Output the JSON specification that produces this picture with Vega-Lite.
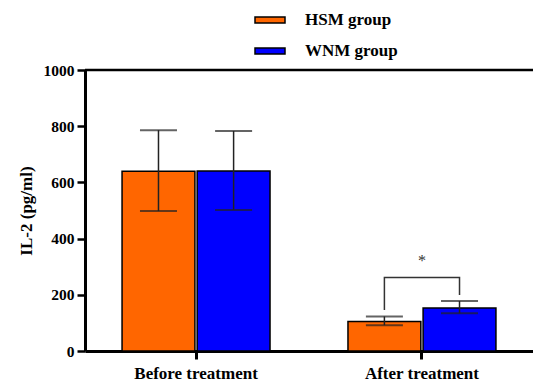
{
  "$schema": "https://vega.github.io/schema/vega-lite/v6.json",
  "autosize": {"type": "none"},
  "padding": {"left": 85, "top": 70, "right": 0, "bottom": 37},
  "width": 448,
  "height": 281,
  "background": "white",
  "config": {
    "view": {"stroke": null},
    "font": "Liberation Serif",
    "axis": {
      "labelFont": "Liberation Serif",
      "labelFontWeight": "bold",
      "labelColor": "black",
      "titleFont": "Liberation Serif",
      "titleFontWeight": "bold",
      "titleColor": "black",
      "domainColor": "black",
      "tickColor": "black",
      "grid": false
    }
  },
  "datasets": {
    "bars": [
      {"time": "Before treatment", "group": "HSM group", "mean": 640, "lo": 498, "hi": 786},
      {"time": "Before treatment", "group": "WNM group", "mean": 641, "lo": 502, "hi": 783},
      {"time": "After treatment", "group": "HSM group", "mean": 105, "lo": 92, "hi": 123},
      {"time": "After treatment", "group": "WNM group", "mean": 153, "lo": 134, "hi": 178}
    ],
    "bracket": [
      {"time": "After treatment", "group": "HSM group", "y": 146, "ord": 1},
      {"time": "After treatment", "group": "HSM group", "y": 262, "ord": 2},
      {"time": "After treatment", "group": "WNM group", "y": 262, "ord": 3},
      {"time": "After treatment", "group": "WNM group", "y": 199, "ord": 4}
    ],
    "star": [{"time": "After treatment", "y": 332, "label": "*"}],
    "top": [{"y": 1000}]
  },
  "layer": [
    {
      "data": {"name": "top"},
      "mark": {"type": "rule", "color": "black", "strokeWidth": 2.5},
      "encoding": {"y": {"field": "y", "type": "quantitative"}}
    },
    {
      "data": {"name": "bars"},
      "mark": {"type": "bar", "stroke": "black", "strokeWidth": 1.5},
      "encoding": {
        "x": {
          "field": "time", "type": "nominal",
          "sort": ["Before treatment", "After treatment"],
          "scale": {"paddingInner": 0.345, "paddingOuter": 0.164, "align": 0.5},
          "axis": {
            "title": null, "labelAngle": 0, "labelFontSize": 17, "labelPadding": 6,
            "domainWidth": 3, "tickWidth": 3, "tickSize": 8, "bandPosition": 0.5,
            "labelBaseline": "top"
          }
        },
        "xOffset": {
          "field": "group", "type": "nominal",
          "scale": {"paddingInner": 0.03, "paddingOuter": 0}
        },
        "y": {
          "field": "mean", "type": "quantitative",
          "scale": {"domain": [0, 1000], "nice": false},
          "axis": {
            "title": "IL-2 (pg/ml)", "titleFontSize": 17, "titlePadding": 8,
            "values": [0, 100, 200, 300, 400, 500, 600, 700, 800, 900, 1000],
            "labelExpr": "datum.value % 200 === 0 ? datum.label : ''",
            "format": "d",
            "labelFontSize": 15.5, "labelPadding": 3,
            "domainWidth": 3, "tickWidth": 2.5,
            "tickSize": {"condition": {"test": "datum.value % 200 !== 0", "value": 4}, "value": 8}
          }
        },
        "color": {
          "field": "group", "type": "nominal",
          "scale": {"domain": ["HSM group", "WNM group"], "range": ["#FF6600", "#0000FF"]},
          "legend": {
            "orient": "none", "legendX": 169, "legendY": -66, "title": null,
            "symbolType": "M-1,-0.2H1V0.2H-1Z", "symbolSize": 900,
            "symbolStrokeColor": "black", "symbolStrokeWidth": 1.5, "symbolOpacity": 1,
            "labelFont": "Liberation Serif", "labelFontWeight": "bold", "labelFontSize": 17,
            "labelColor": "black", "labelOffset": 19, "rowPadding": 7
          }
        }
      }
    },
    {
      "data": {"name": "bars"},
      "mark": {"type": "rule", "color": "#222", "strokeWidth": 1.5},
      "encoding": {
        "x": {"field": "time", "type": "nominal", "sort": ["Before treatment", "After treatment"]},
        "xOffset": {"field": "group", "type": "nominal"},
        "y": {"field": "lo", "type": "quantitative"},
        "y2": {"field": "hi"}
      }
    },
    {
      "data": {"name": "bars"},
      "mark": {"type": "tick", "color": "#222", "size": 37, "thickness": 2},
      "encoding": {
        "x": {"field": "time", "type": "nominal", "sort": ["Before treatment", "After treatment"]},
        "xOffset": {"field": "group", "type": "nominal"},
        "y": {"field": "hi", "type": "quantitative"}
      }
    },
    {
      "data": {"name": "bars"},
      "mark": {"type": "tick", "color": "#222", "size": 37, "thickness": 2},
      "encoding": {
        "x": {"field": "time", "type": "nominal", "sort": ["Before treatment", "After treatment"]},
        "xOffset": {"field": "group", "type": "nominal"},
        "y": {"field": "lo", "type": "quantitative"}
      }
    },
    {
      "data": {"name": "bracket"},
      "mark": {"type": "line", "color": "#333", "strokeWidth": 1.5},
      "encoding": {
        "x": {"field": "time", "type": "nominal", "sort": ["Before treatment", "After treatment"]},
        "xOffset": {"field": "group", "type": "nominal"},
        "y": {"field": "y", "type": "quantitative"},
        "order": {"field": "ord", "type": "quantitative"}
      }
    },
    {
      "data": {"name": "star"},
      "mark": {"type": "text", "font": "Liberation Serif", "fontSize": 16, "color": "#333", "baseline": "middle", "dy": 3},
      "encoding": {
        "x": {"field": "time", "type": "nominal", "sort": ["Before treatment", "After treatment"]},
        "y": {"field": "y", "type": "quantitative"},
        "text": {"field": "label"}
      }
    }
  ]
}
